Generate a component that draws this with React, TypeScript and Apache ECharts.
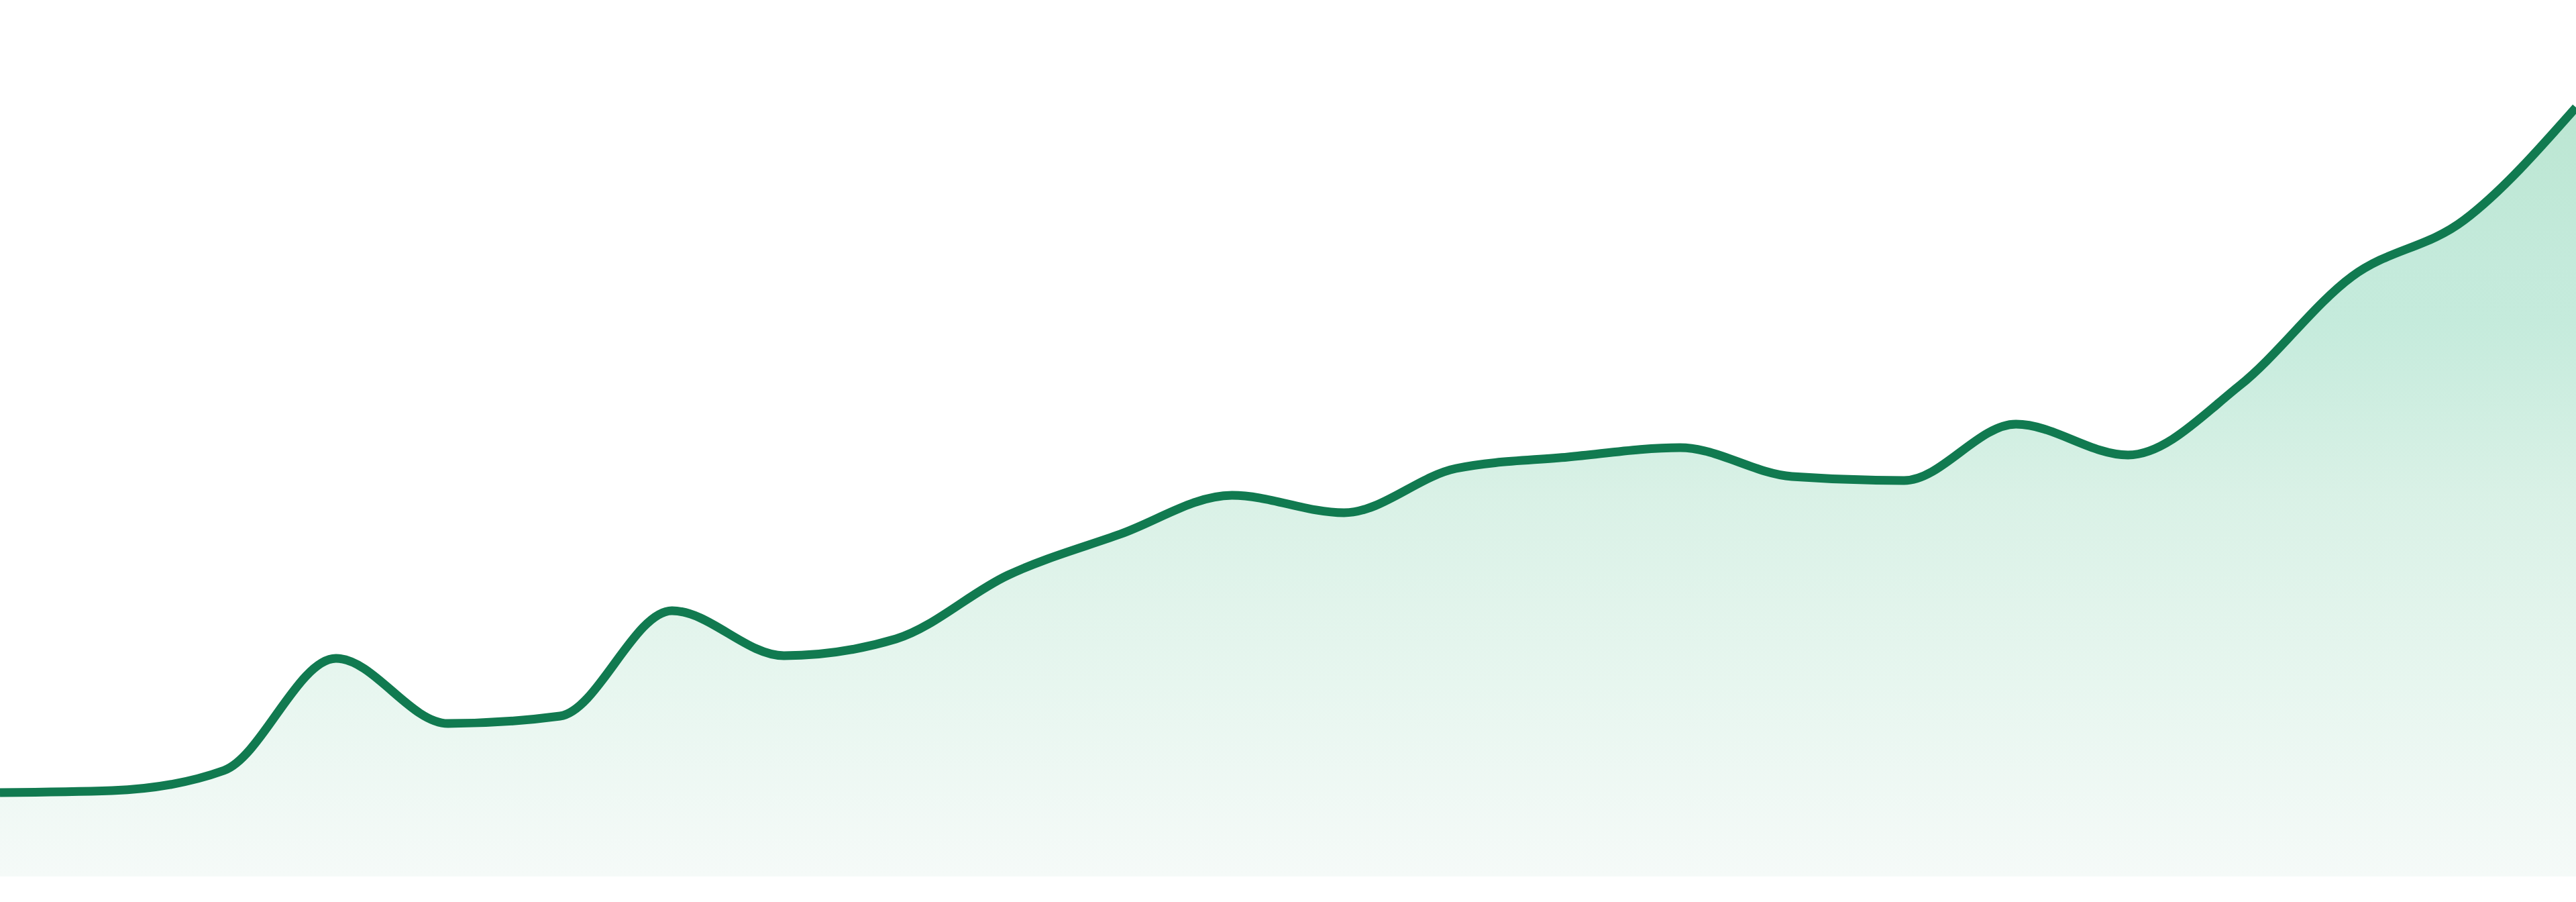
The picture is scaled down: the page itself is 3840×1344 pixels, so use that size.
import React, { useEffect, useRef } from "react";
import * as echarts from "echarts";

// 24 evenly spaced periods, axes hidden in the reference
const periods = [
  "P1", "P2", "P3", "P4", "P5", "P6", "P7", "P8", "P9", "P10", "P11", "P12",
  "P13", "P14", "P15", "P16", "P17", "P18", "P19", "P20", "P21", "P22", "P23", "P24",
];

// values
const values = [
  12.5, 12.8, 15.8, 32.5, 22.8, 23.9, 39.6, 32.9, 35.4, 44.9, 51.0, 56.8,
  54.2, 60.8, 62.5, 63.9, 59.6, 59.0, 67.4, 62.8, 73.2, 89.4, 97.8, 114.6,
];

const Y_MIN = 0;
const Y_MAX = 130.6;

const LINE_COLOR = "#117a50";

const sign = (x: number) => (x < 0 ? -1 : 1);

// monotone cubic (same maths as d3 curveMonotoneX), in pixel space
function monotonePath(pts: number[][]): string {
  const n = pts.length;
  const t: number[] = new Array(n).fill(0);
  for (let i = 1; i < n - 1; i++) {
    const h0 = pts[i][0] - pts[i - 1][0];
    const h1 = pts[i + 1][0] - pts[i][0];
    const s0 = (pts[i][1] - pts[i - 1][1]) / h0;
    const s1 = (pts[i + 1][1] - pts[i][1]) / h1;
    const p = (s0 * h1 + s1 * h0) / (h0 + h1);
    t[i] = (sign(s0) + sign(s1)) * Math.min(Math.abs(s0), Math.abs(s1), 0.5 * Math.abs(p)) || 0;
  }
  const sFirst = (pts[1][1] - pts[0][1]) / (pts[1][0] - pts[0][0]);
  const sLast = (pts[n - 1][1] - pts[n - 2][1]) / (pts[n - 1][0] - pts[n - 2][0]);
  t[0] = (3 * sFirst - t[1]) / 2;
  t[n - 1] = (3 * sLast - t[n - 2]) / 2;

  let d = `M${pts[0][0]},${pts[0][1]}`;
  for (let i = 0; i < n - 1; i++) {
    const [x0, y0] = pts[i];
    const [x1, y1] = pts[i + 1];
    const dx = (x1 - x0) / 3;
    d += ` C${x0 + dx},${y0 + dx * t[i]} ${x1 - dx},${y1 - dx * t[i + 1]} ${x1},${y1}`;
  }
  return d;
}

export default function App() {
  const chartRef = useRef<HTMLDivElement>(null);

  useEffect(() => {
    document.body.style.margin = "0";
    if (!chartRef.current) return;
    const chart = echarts.init(chartRef.current, undefined, { renderer: "svg" });

    const fill = new echarts.graphic.LinearGradient(0, 0, 0, 1, [
      { offset: 0, color: "#bbe6d2" },
      { offset: 0.2, color: "#c4eadb" },
      { offset: 0.28, color: "#c5ebdc" },
      { offset: 0.5, color: "#d9f1e6" },
      { offset: 0.75, color: "#e7f6ef" },
      { offset: 1, color: "#f5faf8" },
    ]);

    chart.setOption({
      animation: false,
      backgroundColor: "#ffffff",
      grid: { left: 0, right: 0, top: 0, bottom: 38, containLabel: false },
      xAxis: {
        type: "category",
        data: periods,
        boundaryGap: false,
        show: false,
      },
      yAxis: {
        type: "value",
        min: Y_MIN,
        max: Y_MAX,
        show: false,
        splitLine: { show: false },
      },
      tooltip: { show: false },
      series: [
        {
          type: "custom",
          data: [[0, Y_MIN]],
          clip: false,
          renderItem: (params: any, api: any) => {
            if (params.dataIndex !== 0) return null;
            const pts = values.map((v, i) => api.coord([i, v]));
            const base = api.coord([0, Y_MIN])[1];
            const line = monotonePath(pts);
            const last = pts[pts.length - 1];
            const area = `${line} L${last[0]},${base} L${pts[0][0]},${base} Z`;
            return {
              type: "group",
              children: [
                { type: "path", shape: { pathData: area }, style: { fill, stroke: "none" } },
                {
                  type: "path",
                  shape: { pathData: line },
                  style: { fill: "none", stroke: LINE_COLOR, lineWidth: 13, lineJoin: "round" },
                },
              ],
            };
          },
        },
      ],
    });

    return () => chart.dispose();
  }, []);

  return (
    <div
      ref={chartRef}
      style={{ position: "absolute", left: 0, top: 0, width: 3840, height: 1344 }}
    />
  );
}
